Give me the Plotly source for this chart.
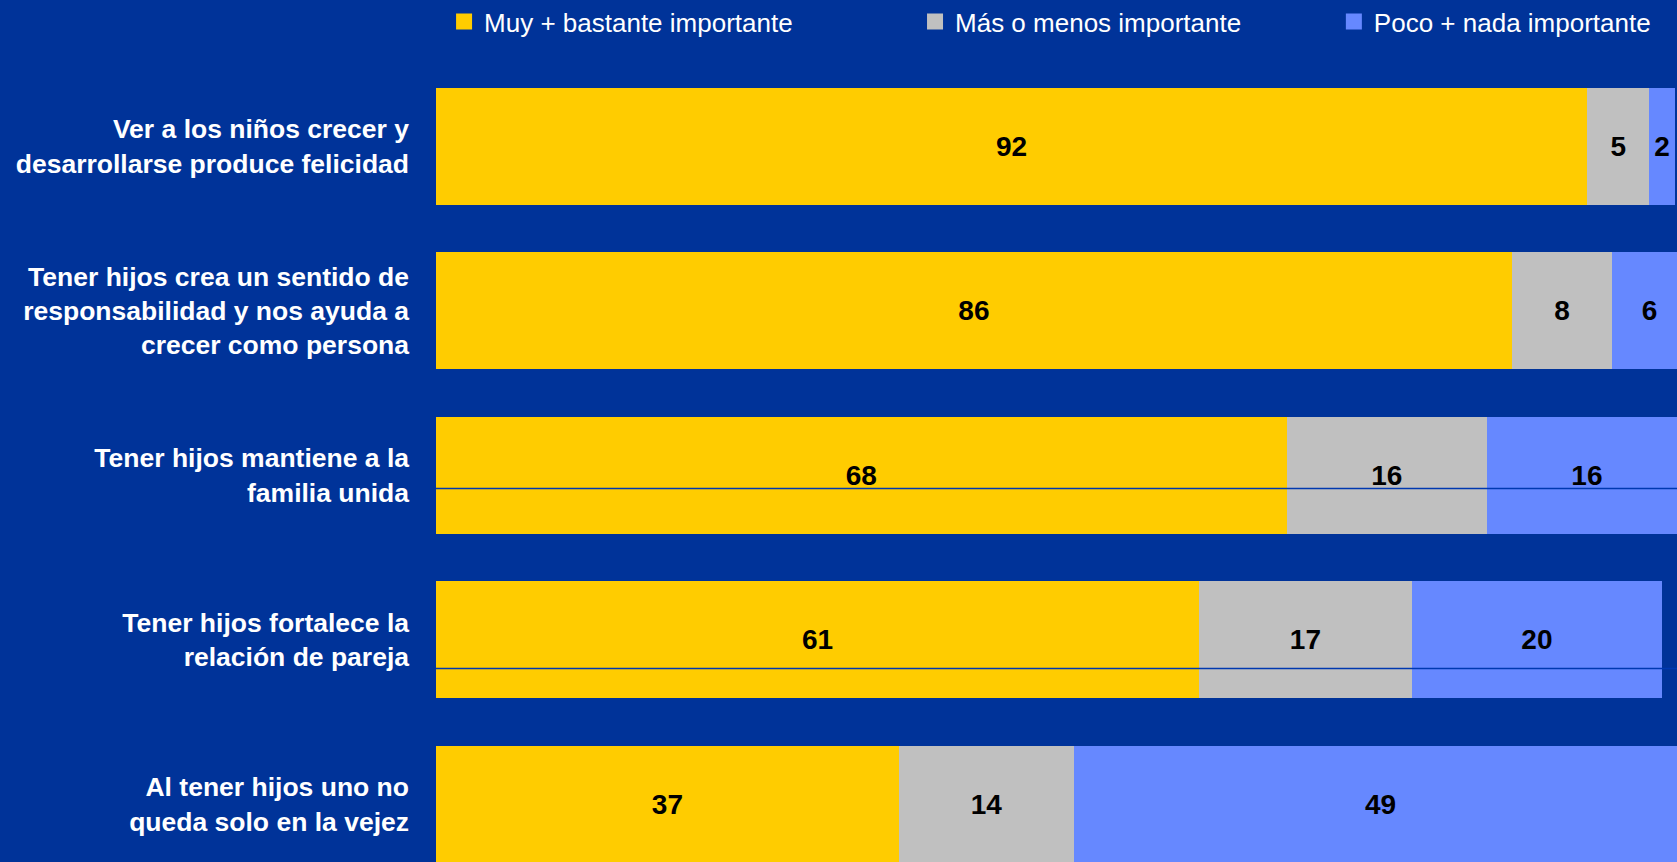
import plotly.graph_objects as go

# ---- data ----
categories = [
    "Ver a los niños crecer y<br>desarrollarse produce felicidad",
    "Tener hijos crea un sentido de<br>responsabilidad y nos ayuda a<br>crecer como persona",
    "Tener hijos mantiene a la<br>familia unida",
    "Tener hijos fortalece la<br>relación de pareja",
    "Al tener hijos uno no<br>queda solo en la vejez",
]
series_names = ["Muy + bastante importante", "Más o menos importante", "Poco + nada importante"]
muy_bastante = [92, 86, 68, 61, 37]
mas_o_menos = [5, 8, 16, 17, 14]
poco_nada = [2, 6, 16, 20, 49]

# ---- style ----
colors = ["#FFCC00", "#C0C0C0", "#6688FF"]
BG = "#003399"
FONT = "Liberation Sans, Arial, sans-serif"

fig = go.Figure()
for name, vals, col in zip(series_names, [muy_bastante, mas_o_menos, poco_nada], colors):
    fig.add_trace(go.Bar(
        y=categories, x=vals, name=name, orientation="h",
        marker=dict(color=col, line=dict(width=0)),
        text=vals, texttemplate="%{x}", textposition="inside",
        insidetextanchor="middle", textangle=0,
        textfont=dict(family=FONT, size=28, color="black", weight="bold"),
        showlegend=False, hoverinfo="skip",
    ))

legend_ids = ["legend", "legend2", "legend3"]
for name, col, lid in zip(series_names, colors, legend_ids):
    fig.add_trace(go.Scatter(
        x=[None], y=[None], mode="markers", name=name,
        marker=dict(symbol="square", size=16, color=col),
        legend=lid, showlegend=True,
    ))

leg_common = dict(orientation="h", yanchor="middle", xanchor="left", y=1.053,
                  bgcolor="rgba(0,0,0,0)", font=dict(family=FONT, size=26, color="white"),
                  itemclick=False, itemdoubleclick=False)
fig.update_layout(
    legend=dict(x=0.0065, **leg_common),
    legend2=dict(x=0.386, **leg_common),
    legend3=dict(x=0.7235, **leg_common),
)

# thin dark lines crossing two of the bars (as in the source image)
for yy in [2.08, 3.174]:
    fig.add_shape(type="line", xref="paper", x0=0, x1=1, yref="y", y0=yy, y1=yy,
                  line=dict(color="#0038B0", width=1.5), layer="above")

fig.update_layout(
    width=1677, height=862,
    barmode="stack", bargap=0.286,
    paper_bgcolor=BG, plot_bgcolor=BG,
    margin=dict(l=436, r=0, t=64, b=0, autoexpand=False),
    font=dict(family=FONT, color="white"),
    xaxis=dict(range=[0, 99.2], visible=False, fixedrange=True),
    yaxis=dict(type="category", range=[4.351, -0.5], showgrid=False, zeroline=False,
               showline=False, ticks="", ticklabelstandoff=26,
               tickfont=dict(family=FONT, size=26.5, color="white", weight="bold"),
               automargin=False, fixedrange=True),
)

fig.write_html(
    "out.html",
    config={"displayModeBar": False, "staticPlot": False},
    post_script="document.body.style.margin='0';document.body.style.overflow='hidden';"
                "document.body.style.background='" + BG + "';",
)
